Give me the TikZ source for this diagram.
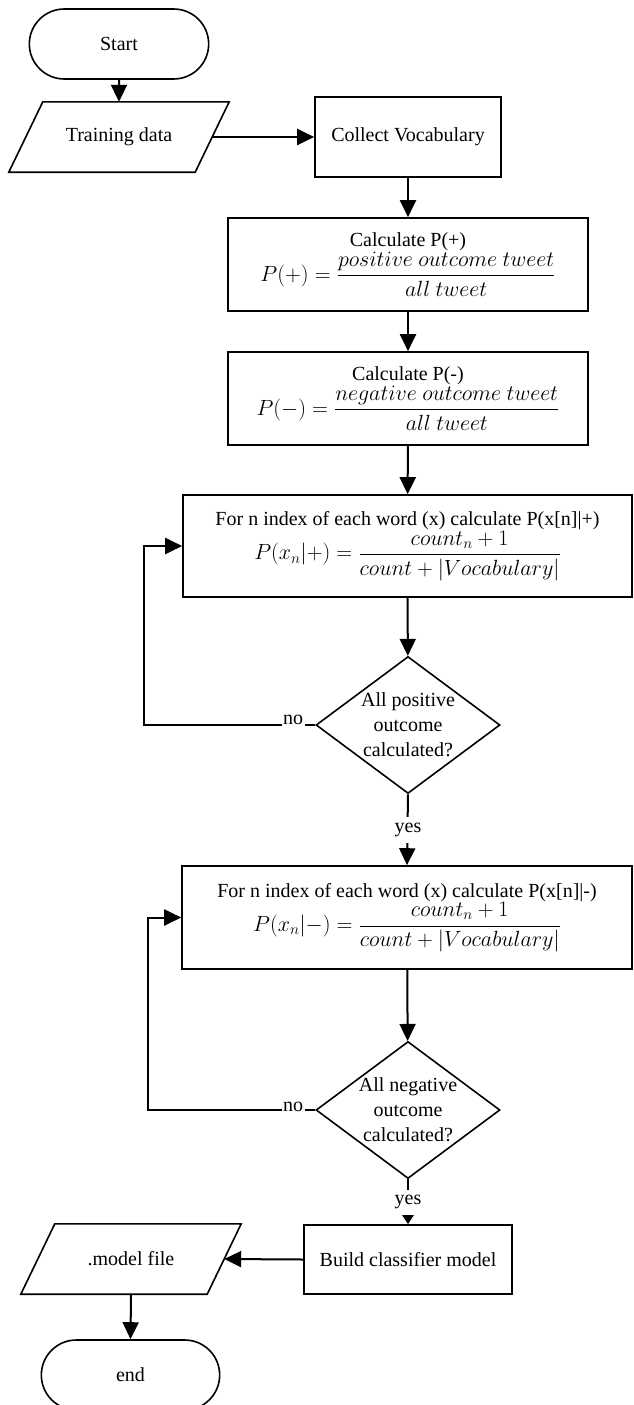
\RequirePackage{fix-cm}
\documentclass[tikz,border=0pt]{standalone}
\usepackage{amsmath}
\usepackage{fontspec}
\setmainfont{Liberation Serif}
\usetikzlibrary{shapes.geometric,shapes.misc,arrows.meta}
\newcommand{\mfont}{\fontsize{22}{26}\selectfont}
\begin{document}
\begin{tikzpicture}[x=1pt,y=-1pt,
  every node/.style={font=\fontsize{20}{25}\selectfont},
  box/.style={draw, line width=1.6pt, rectangle, inner sep=2pt, align=center},
  term/.style={draw, line width=1.6pt, rounded rectangle, minimum width=186pt, minimum height=70pt},
  io/.style={rectangle, minimum width=220pt, minimum height=70pt, inner sep=0pt},
  para/.style={line width=1.6pt, line join=miter},
  dec/.style={draw, line width=1.6pt, diamond, aspect=1.34, minimum width=184pt, minimum height=137pt, inner sep=-3pt, align=center},
  conn/.style={line width=2pt, -{Triangle[length=17pt,width=16pt]}},
  connsmall/.style={line width=2pt, -{Triangle[length=9pt,width=11pt]}},
  lbl/.style={fill=white, inner sep=1.5pt},
]
\useasboundingbox (0,0) rectangle (633,1405);

\node[term] (start) at (119,44) {Start};
\node[io] (train) at (119,137) {Training data};
\draw[para] ([xshift=34pt]train.north west) -- (train.north east)
  -- ([xshift=-34pt]train.south east) -- (train.south west) -- cycle;
\node[box, minimum width=186pt, minimum height=80pt] (vocab) at (408,137) {Collect Vocabulary};
\node[box, minimum width=360pt, minimum height=93pt] (pplus) at (408,264.5)
  {Calculate P(+)\\[0pt] {\mfont$P(+)=\dfrac{positive\ outcome\ tweet}{all\ tweet}$}};
\node[box, minimum width=360pt, minimum height=93pt] (pminus) at (408,398.5)
  {Calculate P(-)\\[0pt] {\mfont$P(-)=\dfrac{negative\ outcome\ tweet}{all\ tweet}$}};
\node[box, minimum width=449pt, minimum height=102pt] (forp) at (407.5,546)
  {For n index of each word (x) calculate P(x[n]|+)\\[0pt] {\mfont$P(x_n|{+})=\dfrac{count_n+1}{count+|Vocabulary|}$}};
\node[dec] (d1) at (408,725) {All positive\\outcome\\calculated?};
\node[box, minimum width=450pt, minimum height=103pt] (forn) at (407,917.5)
  {For n index of each word (x) calculate P(x[n]|-)\\[0pt] {\mfont$P(x_n|{-})=\dfrac{count_n+1}{count+|Vocabulary|}$}};
\node[dec] (d2) at (408,1110) {All negative\\outcome\\calculated?};
\node[box, minimum width=208pt, minimum height=69pt] (build) at (408,1259.5) {Build classifier model};
\node[io] (model) at (131,1259) {.model file};
\draw[para] ([xshift=34pt]model.north west) -- (model.north east)
  -- ([xshift=-34pt]model.south east) -- (model.south west) -- cycle;
\node[term, minimum width=185pt] (end) at (130.5,1375) {end};

\coordinate (lp1) at (144,0);
\coordinate (lp2) at (148,0);

\draw[conn] (start) -- (train);
\draw[conn] ([xshift=-17pt]train.east) -- (vocab.west);
\draw[conn] (vocab) -- (pplus);
\draw[conn] (pplus) -- (pminus);
\draw[conn] (pminus) -- (forp);
\draw[conn] (forp) -- (d1);
\draw[conn] (d1.west) -- (d1.west -| lp1) |- (forp.west);
\draw[conn] (d1.south) -- (forn.north);
\draw[conn] (forn) -- (d2);
\draw[conn] (d2.west) -- (d2.west -| lp2) |- (forn.west);
\draw[connsmall] (d2.south) -- (build.north);
\draw[conn] (build.west) -- ([xshift=-17pt]model.east);
\draw[conn] (model.south) -- (end.north);

\node[lbl] (no1) at (293,720) {no};
\node[lbl] (no2) at (293,1107) {no};
\node[lbl, minimum height=26pt] (yes1) at (408,830) {yes};
\node[lbl, minimum height=25pt] (yes2) at (408,1202) {yes};
\end{tikzpicture}
\end{document}
